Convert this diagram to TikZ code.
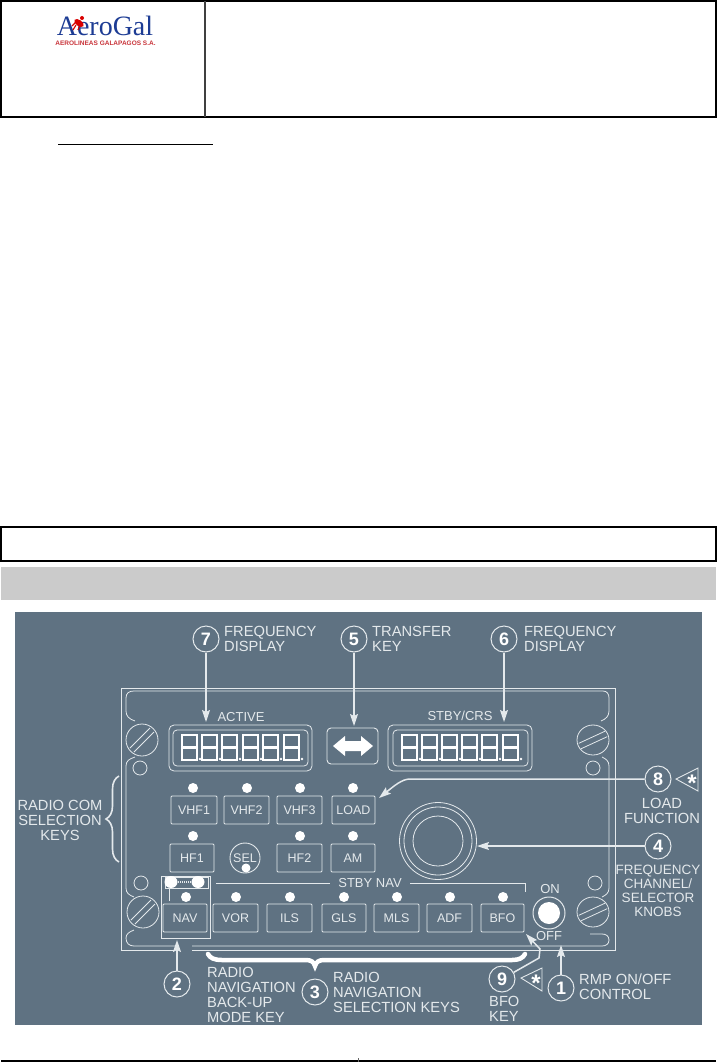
\documentclass[tikz,border=0pt]{standalone}
\usepackage{fontspec}
\setmainfont{Liberation Sans}
\newfontfamily\logoserif{Liberation Serif}
\definecolor{FCUpanel}{HTML}{5F7282}
\definecolor{FCUline}{HTML}{E4E9EC}
\definecolor{FCUband}{HTML}{CBCBCB}
\definecolor{LOGOblue}{HTML}{1D3C94}
\definecolor{LOGOred}{HTML}{C9353B}
\usetikzlibrary{arrows.meta, decorations.pathreplacing}
\tikzset{
  callout/.style={circle, draw=FCUline, line width=1pt, minimum size=26pt, inner sep=0, text=white, font=\fontsize{18}{18}\selectfont\bfseries},
  calltext/.style={text=FCUline, inner sep=0, anchor=west, align=left, font=\fontsize{14.7}{15}\selectfont},
  midtext/.style={calltext, anchor=center, align=center},
  panellabel/.style={text=FCUline, inner sep=0, font=\fontsize{13}{13}\selectfont},
  keybox/.style={draw=FCUline, line width=0.9pt, rounded corners=1pt, minimum width=45pt, minimum height=28pt, inner sep=0, text=FCUline, font=\fontsize{12.5}{13}\selectfont},
  led/.style={circle, fill=white, minimum size=10pt, inner sep=0},
  panelline/.style={draw=FCUline, line width=0.8pt},
  pointer/.style={draw=FCUline, line width=1.5pt, -{Stealth[length=12pt, width=8pt, inset=2pt]}},
  warn/.style={draw=FCUline, line width=0.9pt, fill=FCUpanel},
  segdigit/.pic={
    \draw[white, line width=2.8pt] (0,0) rectangle (15,25) (0,12.5) -- (15,12.5);
    \fill[white] (18,24) circle (1.3);
  },
}
\begin{document}
\begin{tikzpicture}[x=1pt, y=-1pt]
  \useasboundingbox (0,0) rectangle (717,1062);
  \fill[white] (0,0) rectangle (717,1062);

  % Header table with logo
  \draw[black, line width=2pt] (1,1) rectangle (716,117);
  \draw[black!75, line width=1.5pt] (205,1) -- (205,117);
  \node[text=LOGOblue, inner sep=0, font=\fontsize{28}{28}\logoserif] (logoname) at (105,25.5) {AeroGal};
  \node[text=LOGOred, inner sep=0, font=\fontsize{6.5}{7}\selectfont\bfseries] (logosub) at (105.5,43) {AEROLINEAS GALAPAGOS S.A.};
  % frog on the first letter
  \fill[red!85!black, rotate around={-35:(79,23)}] (79,23) ellipse (5.5 and 3);
  \fill[red!85!black] (82,18) circle (2);
  \draw[red!85!black, line width=1.2pt] (76,25) -- (73,30) (80,25) -- (78,30) (77,21) -- (72,26);

  \draw[black, line width=1pt] (58,144) -- (213,144);

  % Title boxes
  \draw[black, line width=2pt] (1,527) rectangle (716,561);
  \fill[FCUband] (1,567) rectangle (716,600);

  % Panel background
  \fill[FCUpanel] (15,612) rectangle (702,1025);

  % Unit outline, outer and inner
  \draw[panelline] (175,950) -- (121,950) -- (121,688) -- (615,688) -- (615,950) -- (192,950);
  \draw[panelline] (135,721) .. controls (129,719) and (126,716) .. (126,711) -- (126,698) .. controls (126,693) and (129,691) .. (134,691) -- (603,691) .. controls (607,691) and (609,694) .. (609,698) -- (609,711) .. controls (609,716) and (606,719) .. (601,721);
  \draw[panelline] (135,757) .. controls (129,759) and (126,761) .. (126,766) -- (126,888) .. controls (126,893) and (129,895) .. (134,897);
  \draw[panelline] (602,757) .. controls (606,759) and (609,761) .. (609,766) -- (609,888) .. controls (609,893) and (606,895) .. (602,897);
  \draw[panelline] (134,930) .. controls (129,932) and (126,934) .. (126,938) .. controls (126,943) and (129,946) .. (134,946) -- (175,946);
  \draw[panelline] (192,946) -- (602,946) .. controls (606,946) and (609,944) .. (609,940) .. controls (609,936) and (606,934) .. (602,934) -- (590,934);

  % Screws and small holes
  \draw[panelline] (142,740) circle (16) (130,748) -- (150,728) (134,752) -- (154,732);
  \draw[panelline] (143,912) circle (16) (131,920) -- (151,900) (135,924) -- (155,904);
  \draw[panelline] (593,740) ellipse (16 and 15) (578.8,743.3) -- (604.8,731.3) (581.2,748.7) -- (607.2,736.7);
  \draw[panelline] (593,912) ellipse (16 and 15) (578.8,915.3) -- (604.8,903.3) (581.2,920.7) -- (607.2,908.7);
  \draw[panelline] (140,768) circle (7) (141,883) circle (7) (593,768) circle (7) (595,883) circle (7);

  % Active display
  \draw[panelline, rounded corners=5pt] (169,725) rectangle (312,771);
  \draw[panelline, rounded corners=4pt] (173,730) rectangle (308,766);
  \pic at (182,735) {segdigit};
  \pic at (202,735) {segdigit};
  \pic at (222,735) {segdigit};
  \pic at (243,735) {segdigit};
  \pic at (263,735) {segdigit};
  \pic at (284,735) {segdigit};
  \node[panellabel] (activelabel) at (241,717) {ACTIVE};

  % Standby display
  \draw[panelline, rounded corners=5pt] (388,725) rectangle (532,771);
  \draw[panelline, rounded corners=4pt] (393,730) rectangle (528,766);
  \pic at (402,735) {segdigit};
  \pic at (422,735) {segdigit};
  \pic at (442,735) {segdigit};
  \pic at (462,735) {segdigit};
  \pic at (482,735) {segdigit};
  \pic at (503,735) {segdigit};
  \node[panellabel] (stbylabel) at (460,716) {STBY/CRS};

  % Transfer key
  \node[draw=FCUline, line width=0.9pt, rounded corners=4pt, minimum width=51pt, minimum height=36pt] (transferkey) at (352.5,746) {};
  \fill[white] (333,746) -- (345,736) -- (345,741) -- (361,741) -- (361,736) -- (373,746) -- (361,756) -- (361,751) -- (345,751) -- (345,756) -- cycle;

  % Radio com keys
  \node[keybox, minimum width=46pt] (vhfone) at (194,810) {VHF1};
  \node[keybox] (vhftwo) at (246.5,810) {VHF2};
  \node[keybox] (vhfthree) at (299.5,810) {VHF3};
  \node[keybox, minimum width=43pt] (loadkey) at (353.5,810) {LOAD};
  \node[led] (ledvhfone) at (193,788) {};
  \node[led] (ledvhftwo) at (247,788) {};
  \node[led] (ledvhfthree) at (300,788) {};
  \node[led] (ledload) at (353,788) {};
  \node[keybox, minimum width=44pt] (hfone) at (192,858) {HF1};
  \node[keybox] (hftwo) at (299.5,858) {HF2};
  \node[keybox, minimum width=44pt] (amkey) at (353,858) {AM};
  \node[circle, draw=FCUline, line width=0.9pt, minimum size=30pt, inner sep=0, text=FCUline, font=\fontsize{12.5}{13}\selectfont] (selkey) at (245,858) {SEL};
  \node[led] (ledhfone) at (193,836) {};
  \node[led] (ledhftwo) at (300,836) {};
  \node[led] (ledam) at (353,836) {};
  \node[led, minimum size=9pt] (ledsel) at (246,868) {};

  % Radio navigation keys
  \draw[panelline] (216,883) -- (330,883);
  \draw[panelline] (410,883) -- (525,883) -- (525,892);
  \node[panellabel] (stbynav) at (370,883) {STBY NAV};
  \node[keybox, minimum width=44pt] (navkey) at (185,918) {NAV};
  \node[keybox] (vorkey) at (235.5,918) {VOR};
  \node[keybox] (ilskey) at (289.5,918) {ILS};
  \node[keybox, minimum width=44pt] (glskey) at (344,918) {GLS};
  \node[keybox] (mlskey) at (396.5,918) {MLS};
  \node[keybox] (adfkey) at (449.5,918) {ADF};
  \node[keybox, minimum width=43pt] (bfokey) at (502.5,918) {BFO};
  \node[led] (lednav) at (186,897) {};
  \node[led] (ledvor) at (236,897) {};
  \node[led] (ledils) at (290,897) {};
  \node[led] (ledgls) at (344,897) {};
  \node[led] (ledmls) at (397,897) {};
  \node[led] (ledadf) at (450,897) {};
  \node[led] (ledbfo) at (503,897) {};

  % Back-up mode key frame
  \draw[panelline] (161,876) rectangle (210,938);
  \draw[panelline] (165,877) rectangle (208,888);
  \draw[panelline] (169,888) -- (169,901);
  \draw[FCUline, line width=2pt, dash pattern=on 1pt off 1pt] (178,882) -- (192,882);
  \fill[white] (171,882) ellipse (6.5 and 6) (198,882) ellipse (6.5 and 6);

  % Frequency knob and on/off switch
  \draw[panelline] (438,841) circle (38.5) (438,841) circle (34) (438,841) circle (25);
  \coordinate (knobedge) at (477,846);
  \node[circle, draw=FCUline, line width=1pt, minimum size=32pt] (rmpknob) at (549,913) {};
  \fill[white] (549,913) circle (11);
  \node[panellabel] (onlabel) at (550,889) {ON};
  \node[panellabel] (offlabel) at (549,936) {OFF};

  % Callouts along the top
  \node[callout] (seven) at (206,639) {7};
  \node[callout] (five) at (354,639) {5};
  \node[callout] (six) at (504,639) {6};
  \node[calltext] (sevenlabel) at (224,638.5) {FREQUENCY\\DISPLAY};
  \node[calltext] (fivelabel) at (372,638.5) {TRANSFER\\KEY};
  \node[calltext] (sixlabel) at (524,638.5) {FREQUENCY\\DISPLAY};
  \coordinate (seventip) at (206,722);
  \coordinate (fivetip) at (354,726);
  \coordinate (sixtip) at (504,722);
  \draw[pointer] (seven) -- (seventip);
  \draw[pointer] (five) -- (fivetip);
  \draw[pointer] (six) -- (sixtip);

  % Callouts on the right
  \node[callout] (eight) at (658,779) {8};
  \node[callout] (four) at (658,846) {4};
  \node[midtext] (eightlabel) at (662,811) {LOAD\\FUNCTION};
  \node[midtext, font=\fontsize{13.5}{14}\selectfont] (fourlabel) at (658,891) {FREQUENCY\\CHANNEL/\\SELECTOR\\KNOBS};
  \coordinate (loadbend) at (410,779);
  \coordinate (loadtip) at (379,798);
  \draw[pointer] (eight) -- (loadbend) .. controls (402,779) and (394,786) .. (loadtip);
  \draw[pointer] (four) -- (knobedge);
  \draw[warn] (676,779) -- (698,768) -- (698,791) -- cycle;
  \node[text=white, inner sep=0, font=\fontsize{24}{24}\selectfont\bfseries] (eightstar) at (692,783) {*};

  % Radio com brace
  \draw[FCUline, line width=1.6pt, decorate, decoration={brace, amplitude=13pt}] (119,862) -- (119,776);
  \node[midtext] (comlabel) at (60,820) {RADIO COM\\SELECTION\\KEYS};

  % Radio navigation brace
  \draw[white, line width=4.5pt, line cap=round] (208,954) .. controls (210,958) and (214,960) .. (222,960) -- (306,960) .. controls (311,960) and (314,962) .. (315,966) .. controls (316,962) and (319,960) .. (324,960) -- (512,960) .. controls (519,960) and (523,958) .. (525,954);

  % Callouts along the bottom
  \node[callout] (two) at (177,984) {2};
  \node[callout] (three) at (315,992) {3};
  \node[callout] (nine) at (502,979) {9};
  \node[callout] (one) at (561,988) {1};
  \node[calltext] (twolabel) at (207,994.5) {RADIO\\NAVIGATION\\BACK-UP\\MODE KEY};
  \node[calltext] (threelabel) at (333,992) {RADIO\\NAVIGATION\\SELECTION KEYS};
  \node[calltext] (ninelabel) at (489,1009) {BFO\\KEY};
  \node[calltext] (onelabel) at (579,986.5) {RMP ON/OFF\\CONTROL};
  \coordinate (twotip) at (177,940);
  \coordinate (onetip) at (561,945);
  \coordinate (ninebend) at (539,958);
  \coordinate (ninetop) at (540,949);
  \coordinate (ninetip) at (526,934);
  \draw[pointer] (two) -- (twotip);
  \draw[pointer] (one) -- (onetip);
  \draw[pointer] (nine) -- (ninebend) -- (ninetop) -- (ninetip);
  \draw[warn] (521,978) -- (542,968) -- (542,991) -- cycle;
  \node[text=white, inner sep=0, font=\fontsize{24}{24}\selectfont\bfseries] (ninestar) at (536,983) {*};

  % Footer rule
  \draw[black, line width=2pt] (1,1061) -- (716,1061);
  \draw[black!60, line width=0.5pt] (358,1058) -- (358,1062);
\end{tikzpicture}
\end{document}
